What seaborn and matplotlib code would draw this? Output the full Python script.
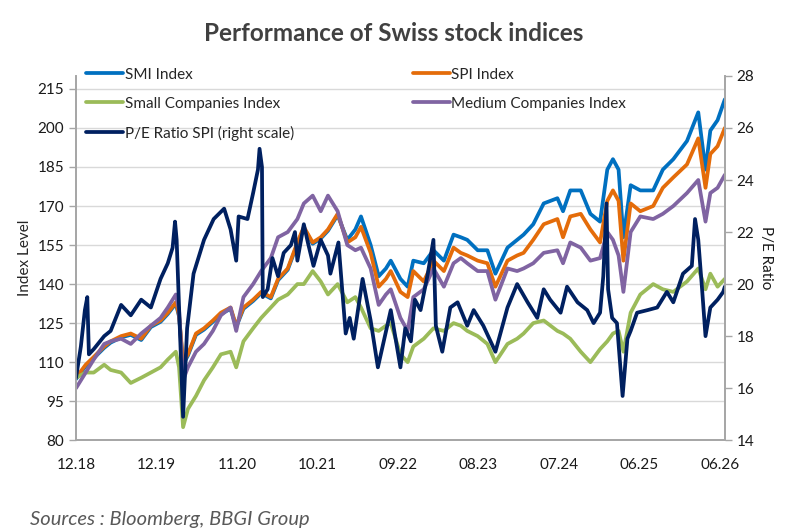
import pandas as pd
import numpy as np
import matplotlib
matplotlib.use("Agg")
import matplotlib.pyplot as plt
from matplotlib.lines import Line2D
import seaborn as sns

# Data

tick_labels = ['12.18', '12.19', '11.20', '10.21', '09.22', '08.23', '07.24', '06.25', '06.26']

period = [0.0, 0.12, 0.22, 0.35, 0.43, 0.56, 0.68, 0.81, 0.93, 1.05,
          1.14, 1.24, 1.28, 1.33, 1.39, 1.49, 1.59, 1.70, 1.80, 1.92,
          1.99, 2.08, 2.20, 2.30, 2.42, 2.51, 2.63, 2.75, 2.83, 2.94,
          3.04, 3.13, 3.25, 3.37, 3.47, 3.54, 3.66, 3.76, 3.85, 3.91,
          4.03, 4.12, 4.19, 4.32, 4.44, 4.57, 4.69, 4.78, 4.86, 4.99,
          5.11, 5.21, 5.36, 5.48, 5.56, 5.68, 5.81, 5.98, 6.05, 6.14,
          6.27, 6.39, 6.51, 6.60, 6.67, 6.74, 6.80, 6.89, 7.01, 7.17,
          7.29, 7.42, 7.59, 7.73, 7.82, 7.88, 7.97, 8.06]

smi = [103.5, 108.5, 111.5, 115.5, 117.5, 119.5, 120.5, 118.5, 123.5, 125.5,
       128.5, 132.5, 127.5, 109, 112.5, 120.5, 122.5, 125.5, 128.5, 130.5,
       123.5, 130.5, 133.5, 136.5, 134.5, 141.5, 145.5, 155.5, 161.5, 155.5,
       157.5, 160.5, 166.5, 157, 161, 166, 155, 143, 146, 149,
       142, 139, 149, 148, 153, 149, 159, 158, 157, 153,
       153, 144, 154, 157, 159, 163, 171, 173, 168, 176,
       176, 167, 164, 184, 188, 184, 158, 178, 176, 176,
       184, 188, 195, 206, 184, 199, 203, 211]

spi = [104, 109, 112, 116, 118, 120, 121, 119, 124, 126,
       129, 133, 128, 110, 113, 121, 123, 126, 129, 131,
       124, 131, 134, 137, 135, 142, 146, 156, 162, 156,
       158, 161, 167, 156, 158, 162, 152, 139, 142, 145,
       137, 135, 145, 141, 149, 145, 154, 152, 151, 149,
       148, 139, 149, 151, 152, 157, 163, 165, 158, 166,
       167, 161, 156, 172, 176, 172, 149, 171, 168, 170,
       177, 181, 186, 196, 177, 190, 193, 200]

small = [104, 106, 106, 109, 107, 106, 102, 104, 106, 108,
         111, 114, 108, 85, 92, 97, 103, 108, 113, 114,
         108, 118, 123, 127, 131, 134, 136, 140, 140, 145,
         141, 136, 140, 133, 135, 131, 123, 122, 124, 125,
         113, 110, 116, 119, 123, 122, 125, 124, 122, 120,
         117, 110, 117, 119, 121, 125, 126, 122, 121, 119,
         114, 110, 115, 118, 121, 122, 114, 129, 136, 140,
         138, 137, 141, 146, 138, 144, 139, 142]

medium = [100, 106, 111, 117, 118, 119, 117, 121, 124, 127,
          131, 136, 130, 103, 108, 114, 117, 122, 128, 131,
          122, 135, 140, 145, 150, 158, 160, 165, 171, 174,
          168, 174, 168, 155, 153, 154, 146, 132, 136, 138,
          127, 122, 135, 138, 146, 139, 148, 150, 148, 145,
          145, 134, 146, 145, 146, 148, 152, 153, 148, 156,
          154, 149, 150, 160, 157, 151, 137, 160, 166, 165,
          167, 170, 175, 180, 164, 175, 177, 182]

pe_period = [0.0, 0.06, 0.11, 0.14, 0.16, 0.22, 0.35, 0.43, 0.56, 0.68,
             0.81, 0.93, 1.05, 1.14, 1.20, 1.23, 1.25, 1.28, 1.33, 1.38,
             1.46, 1.59, 1.71, 1.84, 1.92, 1.99, 2.02, 2.13, 2.20, 2.26,
             2.28, 2.31, 2.32, 2.38, 2.44, 2.51, 2.58, 2.67, 2.72, 2.75,
             2.83, 2.88, 2.95, 3.04, 3.13, 3.16, 3.26, 3.35, 3.40, 3.45,
             3.56, 3.66, 3.75, 3.91, 4.03, 4.09, 4.16, 4.21, 4.28, 4.37,
             4.44, 4.47, 4.55, 4.65, 4.74, 4.86, 4.94, 5.06, 5.21, 5.36,
             5.48, 5.61, 5.73, 5.81, 5.89, 6.02, 6.10, 6.23, 6.35, 6.43,
             6.51, 6.55, 6.59, 6.61, 6.66, 6.72, 6.79, 6.85, 6.89, 6.97,
             7.10, 7.22, 7.34, 7.42, 7.54, 7.65, 7.69, 7.73, 7.78, 7.82,
             7.88, 7.97, 8.04, 8.06]

pe_ratio = [16.4, 17.6, 19.0, 19.5, 17.3, 17.5, 18.0, 18.2, 19.2, 18.8,
            19.4, 19.1, 20.2, 20.8, 21.4, 22.4, 21.7, 19.1, 14.9, 18.3,
            20.4, 21.7, 22.5, 22.9, 22.1, 20.9, 22.6, 22.5, 23.5, 24.4,
            25.2, 24.5, 19.5, 19.8, 21.0, 20.3, 21.2, 21.5, 22.0, 20.9,
            22.3, 21.6, 20.7, 21.7, 21.1, 20.4, 21.6, 18.1, 18.7, 17.9,
            20.2, 18.6, 16.8, 19.0, 16.8, 18.3, 17.8, 19.4, 19.0, 20.4,
            21.7, 18.4, 17.4, 19.1, 19.3, 18.4, 19.0, 18.4, 17.4, 19.1,
            20.0, 19.3, 18.7, 19.8, 19.4, 18.9, 19.9, 19.3, 19.0, 18.5,
            18.9, 20.3, 23.1, 19.8, 18.7, 18.5, 15.7, 17.9, 18.2, 18.9,
            19.0, 19.1, 19.7, 19.3, 20.4, 20.7, 22.5, 21.7, 19.7, 18.0,
            19.1, 19.4, 19.7, 19.9]

names = ['SMI Index', 'SPI Index', 'Small Companies Index', 'Medium Companies Index']
colors = ['#0070C0', '#E46C0A', '#9BBB59', '#8064A2']
pe_name = 'P/E Ratio SPI (right scale)'
pe_color = '#002060'

df = pd.DataFrame({'period': period,
                   'SMI Index': smi,
                   'SPI Index': spi,
                   'Small Companies Index': small,
                   'Medium Companies Index': medium})
long_df = df.melt(id_vars='period', var_name='series', value_name='level')

# Style

sns.set_theme(style='white')
plt.rcParams['font.family'] = ['Lato', 'DejaVu Sans']

lw = 2.7

fig, ax = plt.subplots(figsize=(7.87, 5.31), dpi=100)
fig.subplots_adjust(left=0.0966, right=0.921, bottom=0.171, top=0.857)

sns.lineplot(data=long_df, x='period', y='level', hue='series',
             hue_order=names, palette=colors, linewidth=lw,
             legend=False, ax=ax)

ax2 = ax.twinx()
sns.lineplot(x=pe_period, y=pe_ratio, color=pe_color, linewidth=lw, ax=ax2)

# Axes

ax.set_xlim(0, 8.06)
ax.set_ylim(80, 220)
ax.set_yticks(np.arange(80, 216, 15))
ax.set_xticks(range(len(tick_labels)))
ax.set_xticklabels(tick_labels)
ax2.set_ylim(14, 28)
ax2.set_yticks(np.arange(14, 29, 2))

ax.yaxis.grid(True, color='#D9D9D9', linewidth=1)
ax.xaxis.grid(False)
ax.set_xlabel('')
ax.set_ylabel('Index Level', fontsize=11, color='#262626', labelpad=4)
ax2.set_ylabel('')

for a in (ax, ax2):
    for s in a.spines.values():
        s.set_color('#A6A6A6')
    a.spines['top'].set_visible(False)
    a.tick_params(axis='both', length=5, color='#A6A6A6', width=1,
                  labelsize=11, labelcolor='#1a1a1a', direction='out')
ax.tick_params(axis='x', pad=8)

fig.text(0.973, 0.514, 'P/E Ratio', rotation=270, ha='center', va='center',
         fontsize=11, color='#1a1a1a')

# Legends

h = {n: Line2D([], [], color=c, linewidth=lw) for n, c in zip(names, colors)}
h[pe_name] = Line2D([], [], color=pe_color, linewidth=lw)

leg_kw = dict(frameon=False, fontsize=11, handlelength=2.4, handletextpad=0.1,
              labelspacing=0.98, borderpad=0, loc='upper left')
leg1 = fig.legend([h['SMI Index'], h['Small Companies Index'], h[pe_name]],
                  ['SMI Index', 'Small Companies Index', pe_name],
                  bbox_to_anchor=(0.100, 0.887), **leg_kw)
leg2 = fig.legend([h['SPI Index'], h['Medium Companies Index']],
                  ['SPI Index', 'Medium Companies Index'],
                  bbox_to_anchor=(0.515, 0.887), **leg_kw)

fig.suptitle('Performance of Swiss stock indices', y=0.958, fontsize=17.5,
             fontweight='bold', color='#404040')

fig.text(0.038, 0.021, 'Sources : Bloomberg, BBGI Group', fontsize=14.5,
         style='italic', color='#595959', va='center')

plt.savefig('out.png', dpi=100)
